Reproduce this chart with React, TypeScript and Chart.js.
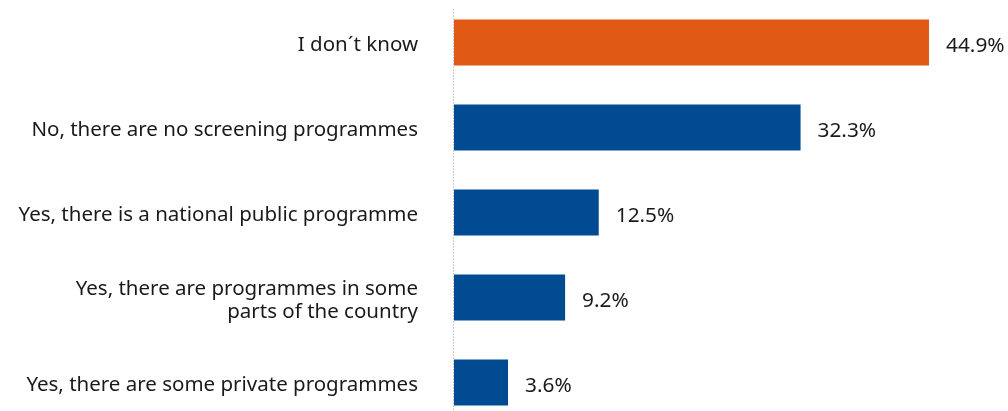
import React, { useEffect, useRef } from "react";
import { Chart, registerables } from "chart.js";

Chart.register(...registerables);

const categories: (string | string[])[] = [
  "I don´t know",
  "No, there are no screening programmes",
  "Yes, there is a national public programme",
  ["Yes, there are programmes in some", "parts of the country"],
  "Yes, there are some private programmes",
];
const values: number[] = [44.9, 32.3, 12.5, 9.2, 3.6];
const barColors: string[] = ["#E05A16", "#004B92", "#004B92", "#004B92", "#004B92"];
const valueLabels: string[] = ["44.9%", "32.3%", "12.5%", "9.2%", "3.6%"];

const AXIS_MIN = -1.7;
const AXIS_MAX = 50;
const FONT = "'Noto Sans', sans-serif";

export default function App() {
  const ref = useRef<HTMLCanvasElement | null>(null);

  useEffect(() => {
    document.body.style.margin = "0";
    document.body.style.overflow = "hidden";
    if (!ref.current) return;

    const labelPlugin = {
      id: "valueLabels",
      beforeDatasetsDraw(chart: any) {
        const ctx = chart.ctx;
        const area = chart.chartArea;
        ctx.save();
        ctx.strokeStyle = "#cfcfcf";
        ctx.lineWidth = 1;
        ctx.setLineDash([2, 1]);
        ctx.beginPath();
        ctx.moveTo(area.left - 0.5, 9);
        ctx.lineTo(area.left - 0.5, chart.height);
        ctx.stroke();
        ctx.restore();
      },
      afterDatasetsDraw(chart: any) {
        const ctx = chart.ctx;
        const meta = chart.getDatasetMeta(0);
        ctx.save();
        ctx.font = `20.8px ${FONT}`;
        ctx.fillStyle = "#1a1a1a";
        ctx.textAlign = "left";
        ctx.textBaseline = "middle";
        meta.data.forEach((bar: any, i: number) => {
          ctx.fillText(valueLabels[i], bar.x + 17, bar.y + 4);
        });
        ctx.restore();
      },
    };

    const chart = new Chart(ref.current, {
      type: "bar",
      data: {
        labels: categories,
        datasets: [
          {
            data: values,
            backgroundColor: barColors,
            base: AXIS_MIN,
            barPercentage: 0.541,
            categoryPercentage: 1,
          },
        ],
      },
      options: {
        indexAxis: "y",
        animation: false,
        responsive: true,
        maintainAspectRatio: false,
        layout: { padding: { left: 0, right: 27, top: 0, bottom: 0 } },
        plugins: {
          legend: { display: false },
          tooltip: { enabled: false },
        },
        scales: {
          x: {
            display: false,
            min: AXIS_MIN,
            max: AXIS_MAX,
          },
          y: {
            offset: true,
            border: { display: false },
            grid: { display: false, drawTicks: false },
            ticks: {
              padding: 36,
              labelOffset: 3,
              color: "#1a1a1a",
              font: { family: FONT, size: 20.5, lineHeight: 1.13 },
            },
            afterFit(scale: any) {
              scale.width = 454;
              scale.paddingTop = 0;
              scale.paddingBottom = 0;
            },
          },
        },
      },
      plugins: [labelPlugin],
    });

    return () => chart.destroy();
  }, []);

  return (
    <div style={{ position: "relative", width: 1008, height: 425 }}>
      <canvas ref={ref} />
    </div>
  );
}
